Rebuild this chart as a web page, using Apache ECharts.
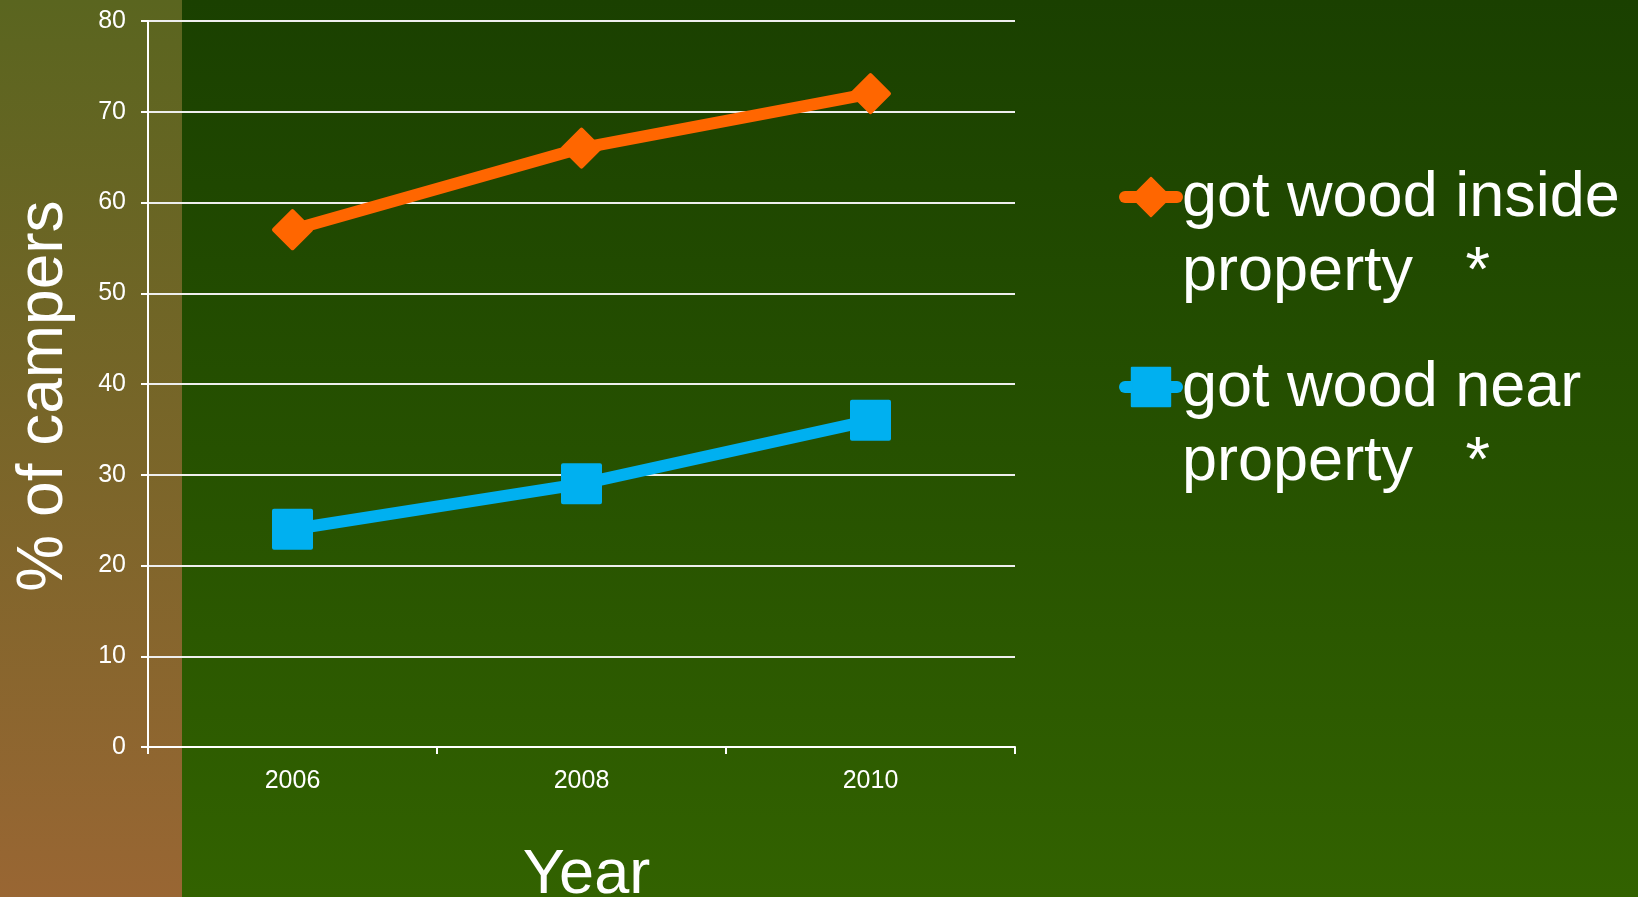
<!DOCTYPE html>
<html>
<head>
<meta charset="utf-8">
<script src="https://cdn.jsdelivr.net/npm/echarts@6/dist/echarts.min.js"></script>
<style>
  html, body { margin: 0; padding: 0; width: 1638px; height: 897px; overflow: hidden; }
  #bg { position: absolute; left: 0; top: 0; width: 1638px; height: 897px;
        background: linear-gradient(to bottom, #1a4000, #326200); }
  #band { position: absolute; left: 0; top: 0; width: 182px; height: 897px;
        background: linear-gradient(to bottom, #5a651f, #996633); }
  #chart { position: absolute; left: 0; top: 0; width: 1638px; height: 897px; }
</style>
</head>
<body>
<div id="bg"></div>
<div id="band"></div>
<div id="chart"></div>
<script>
const categories = ['2006', '2008', '2010'];
const insideValues = [57, 66, 72];
const nearValues = [24, 29, 36];
const seriesNames = ['got wood inside\nproperty   *', 'got wood near\nproperty   *'];
const yTicks = { min: 0, max: 80, interval: 10 };

const FONT = "'Liberation Sans', Arial, sans-serif";
const ORANGE = '#ff6600';
const BLUE = '#00b0f0';

const chart = echarts.init(document.getElementById('chart'), null, { renderer: 'canvas' });

const legendCommon = {
  orient: 'vertical',
  left: 1119,
  padding: 0,
  itemWidth: 52,
  itemHeight: 48,
  selectedMode: false,
  lineStyle: { width: 12, cap: 'round' },
  formatter: function (name) {
    return '{s| }\n' + name.split('\n').map(function (l) { return '{t|' + l + '}'; }).join('\n');
  },
  textStyle: {
    color: '#ffffff',
    fontSize: 63,
    fontFamily: FONT,
    rich: {
      s: { fontSize: 10, lineHeight: 78 },
      t: { color: '#ffffff', fontSize: 63, fontFamily: FONT, lineHeight: 74 }
    }
  }
};

chart.setOption({
  backgroundColor: 'transparent',
  animation: false,
  grid: { left: 148, right: 623, top: 21, bottom: 150, containLabel: false, outerBoundsMode: 'none' },
  legend: [
    Object.assign({}, legendCommon, { data: [seriesNames[0]], top: 118 }),
    Object.assign({}, legendCommon, { data: [seriesNames[1]], top: 308 })
  ],
  xAxis: {
    type: 'category',
    data: categories,
    boundaryGap: true,
    name: 'Year',
    nameLocation: 'middle',
    nameGap: 97,
    nameMoveOverlap: false,
    nameTextStyle: { color: '#ffffff', fontSize: 63, fontFamily: FONT, padding: [0, 0, 0, 10] },
    axisLine: { show: true, lineStyle: { color: '#ffffff', width: 2 } },
    axisTick: { show: true, alignWithLabel: false, length: 7, lineStyle: { color: '#ffffff', width: 2 } },
    axisLabel: { color: '#ffffff', fontSize: 25, fontFamily: FONT, margin: 22 },
    splitLine: { show: false }
  },
  yAxis: {
    type: 'value',
    min: yTicks.min,
    max: yTicks.max,
    interval: yTicks.interval,
    name: '% of campers',
    nameLocation: 'middle',
    nameRotate: 90,
    nameGap: 72,
    nameMoveOverlap: false,
    nameTextStyle: { color: '#ffffff', fontSize: 64, fontFamily: FONT, padding: [0, 24, 0, 0] },
    axisLine: { show: true, lineStyle: { color: '#ffffff', width: 2 } },
    axisTick: { show: true, length: 7, lineStyle: { color: '#ffffff', width: 2 } },
    axisLabel: { color: '#ffffff', fontSize: 25, fontFamily: FONT, margin: 22 },
    splitLine: { show: true, lineStyle: { color: '#eeeeee', width: 2 } }
  },
  series: [
    {
      name: seriesNames[0],
      type: 'line',
      data: insideValues,
      symbol: 'diamond',
      symbolSize: 37,
      lineStyle: { color: ORANGE, width: 12 },
      itemStyle: { color: ORANGE, borderColor: ORANGE, borderWidth: 4, borderJoin: 'round' }
    },
    {
      name: seriesNames[1],
      type: 'line',
      data: nearValues,
      symbol: 'rect',
      symbolSize: 37,
      lineStyle: { color: BLUE, width: 12 },
      itemStyle: { color: BLUE, borderColor: BLUE, borderWidth: 4, borderJoin: 'round' }
    }
  ]
});
</script>
</body>
</html>
